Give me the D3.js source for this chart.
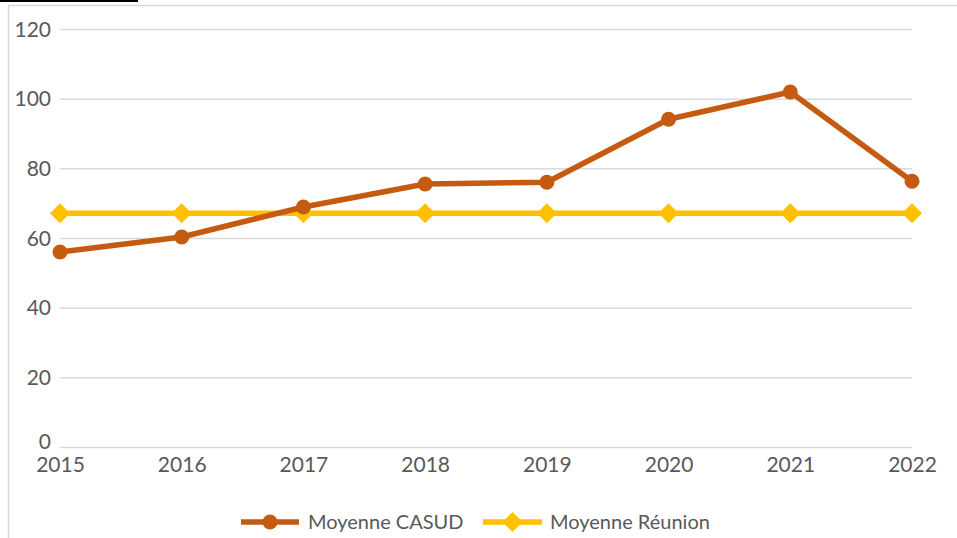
<!DOCTYPE html>
<html><head><meta charset="utf-8">
<script src="https://cdn.jsdelivr.net/npm/d3@7/dist/d3.min.js"></script>
<style>html,body{margin:0;padding:0;background:#fff;overflow:hidden}</style>
</head><body>
<svg id="c" width="957" height="538"></svg>
<script>
const years = ["2015","2016","2017","2018","2019","2020","2021","2022"];
const casud = [56, 60.3, 68.9, 75.5, 76, 94.1, 101.9, 76.3];
const reunion = [67.1, 67.1, 67.1, 67.1, 67.1, 67.1, 67.1, 67.1];
const yTicks = [0, 20, 40, 60, 80, 100, 120];
const seriesNames = ["Moyenne CASUD", "Moyenne Réunion"];

const svg = d3.select("#c");
const font = "Lato, 'Open Sans', sans-serif";
const grey = "#d9d9d9", txt = "#595959";
const cCasud = "#C55A11", cReu = "#FFC000";

// cut-off title underline & chart border
svg.append("rect").attr("x",0).attr("y",0).attr("width",138).attr("height",2).attr("fill","#000");
svg.append("rect").attr("x",8.5).attr("y",5.5).attr("width",1000).attr("height",600)
  .attr("fill","none").attr("stroke",grey).attr("stroke-width",1.5);

const x = d3.scalePoint().domain(years).range([60, 912]);
const y = d3.scaleLinear().domain([0,120]).range([447, 29]);

// gridlines
const yAxis = d3.axisLeft(y).tickValues(yTicks).tickSize(-(912-60)).tickPadding(9);
const gy = svg.append("g").attr("transform","translate(60,0)").call(yAxis);
gy.select(".domain").remove();
gy.selectAll(".tick line").attr("stroke",grey).attr("stroke-width",1.5);
gy.selectAll(".tick text").attr("fill",txt).style("font-family",font).style("font-size","21px")
  .attr("dy","0.34em");
gy.selectAll(".tick").filter(d=>d===0).select("text").attr("dy","0.05em");

// x axis labels
const xAxis = d3.axisBottom(x).tickSize(0).tickPadding(10);
const gx = svg.append("g").attr("transform","translate(0,447)").call(xAxis);
gx.select(".domain").remove();
gx.selectAll(".tick text").attr("fill",txt).style("font-family",font).style("font-size","21px");

const line = d3.line().x((d,i)=>x(years[i])).y(d=>y(d));
const h = 10;
const diamondPath = `M0,${-h}L${h},0L0,${h}L${-h},0Z`;

// Réunion
svg.append("path").datum(reunion).attr("d",line).attr("fill","none")
  .attr("stroke",cReu).attr("stroke-width",5.5);
svg.selectAll(".dm").data(reunion).enter().append("path")
  .attr("d",diamondPath).attr("fill",cReu)
  .attr("transform",(d,i)=>`translate(${x(years[i])},${y(d)})`);

// CASUD
svg.append("path").datum(casud).attr("d",line).attr("fill","none")
  .attr("stroke",cCasud).attr("stroke-width",5.5).attr("stroke-linejoin","round");
svg.selectAll(".ci").data(casud).enter().append("circle")
  .attr("cx",(d,i)=>x(years[i])).attr("cy",d=>y(d)).attr("r",7.5).attr("fill",cCasud);

// legend
const leg = [{n:seriesNames[0],c:cCasud,x0:241,x1:299,tx:308,m:"c"},
             {n:seriesNames[1],c:cReu,x0:483,x1:542,tx:550,m:"d"}];
const ly = 522;
leg.forEach(l=>{
  svg.append("line").attr("x1",l.x0).attr("x2",l.x1).attr("y1",ly).attr("y2",ly)
    .attr("stroke",l.c).attr("stroke-width",5.5);
  const mx=(l.x0+l.x1)/2;
  if(l.m==="c") svg.append("circle").attr("cx",mx).attr("cy",ly).attr("r",7.5).attr("fill",l.c);
  else svg.append("path").attr("d",diamondPath).attr("fill",l.c).attr("transform",`translate(${mx},${ly})`);
  svg.append("text").attr("x",l.tx).attr("y",ly).attr("dy","0.35em").attr("fill",txt)
    .style("font-family",font).style("font-size","20px").text(l.n);
});
</script>
</body></html>
